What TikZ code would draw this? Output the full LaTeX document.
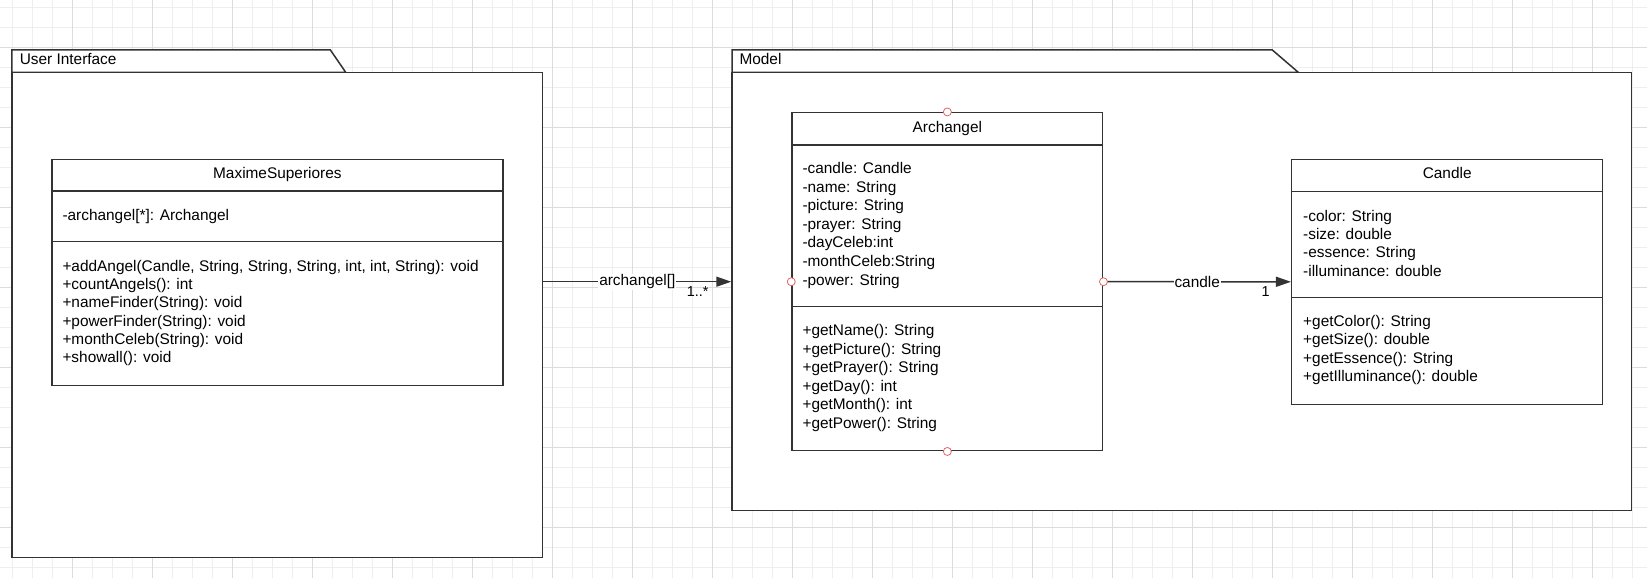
\documentclass[tikz,border=0pt]{standalone}
\usepackage{fontspec}
\setmainfont{Liberation Sans}
\usetikzlibrary{arrows.meta}
\definecolor{umlline}{HTML}{333333}
\definecolor{gridminor}{HTML}{EEEEEE}
\definecolor{gridmajor}{HTML}{DCDCDC}
\definecolor{portred}{HTML}{E06666}
\newcommand{\umlfont}{\fontsize{15.4}{18.4}\selectfont}

\begin{document}
\begin{tikzpicture}[x=1pt,y=-1pt,
    boxline/.style={draw=umlline,line width=1.5pt,fill=white,inner sep=0pt,rectangle},
    member/.style={anchor=base west,inner sep=0pt,font=\umlfont},
    classname/.style={anchor=base,inner sep=0pt,font=\umlfont},
    portmark/.style={draw=portred,fill=white,line width=0.8pt},
    assoc/.style={draw=umlline,line width=1.5pt,-{Triangle[length=15pt,width=10pt]}},
    lbl/.style={fill=white,inner sep=1pt,font=\umlfont},
    mult/.style={inner sep=0pt,anchor=base east,font=\fontsize{14.4}{16}\selectfont}]
    \fill[white] (0,0) rectangle (1647,578);
    \useasboundingbox (0,0) rectangle (1647,578);
    \foreach \k in {0,...,81}
        \draw[gridminor,line width=1pt] ({12.7+20*\k},0) -- ({12.7+20*\k},578);
    \foreach \k in {0,...,28}
        \draw[gridminor,line width=1pt] (0,{7.3+20*\k}) -- (1647,{7.3+20*\k});
    \foreach \k in {0,...,19}
        \draw[gridmajor,line width=1pt] ({72.7+80*\k},0) -- ({72.7+80*\k},578);
    \foreach \k in {0,...,6}
        \draw[gridmajor,line width=1pt] (0,{47.3+80*\k}) -- (1647,{47.3+80*\k});

    % packages
    \filldraw[boxline] (11.8,72.3) -- (11.8,50) -- (330.4,50) -- (345.7,72.3) -- cycle;
    \node[boxline,minimum width=530.9pt,minimum height=485.4pt] (uipkg) at (277.25,315) {};
    \node[member] (uilabel) at (19.6,64.3) {User Interface};
    \filldraw[boxline] (732,72.3) -- (732,50) -- (1272.3,50) -- (1298.3,72.3) -- cycle;
    \node[boxline,minimum width=899.7pt,minimum height=438.2pt] (modelpkg) at (1181.85,291.4) {};
    \node[member] (modellabel) at (739.3,65) {Model};

    % MaximeSuperiores
    \node[boxline,minimum width=451.1pt,minimum height=226pt] (maxime) at (277.35,272.3) {};
    \draw[umlline,line width=1.5pt] ([yshift=-32.4pt]maxime.north west) -- ([yshift=-32.4pt]maxime.north east);
    \draw[umlline,line width=1.5pt] ([yshift=-83pt]maxime.north west) -- ([yshift=-83pt]maxime.north east);
    \node[classname] (maxime-name) at (277.35,178.3) {MaximeSuperiores};
    \node[member] (maxime-a1) at (62.3,220) {-archangel[*]: Archangel};
    \foreach \txt [count=\i] in {{+addAngel(Candle, String, String, String, int, int, String): void},
        {+countAngels(): int},{+nameFinder(String): void},{+powerFinder(String): void},
        {+monthCeleb(String): void},{+showall(): void}}
        \node[member] (maxime-m\i) at (62.3,{271.7+18.1*(\i-1)}) {\txt};

    % Archangel
    \node[boxline,minimum width=310.7pt,minimum height=338pt] (archangel) at (947.35,281.7) {};
    \draw[umlline,line width=1.5pt] ([yshift=-33pt]archangel.north west) -- ([yshift=-33pt]archangel.north east);
    \draw[umlline,line width=1.5pt] ([yshift=-194.6pt]archangel.north west) -- ([yshift=-194.6pt]archangel.north east);
    \node[classname] (archangel-name) at (947.35,132) {Archangel};
    \foreach \txt [count=\i] in {{-candle: Candle},{-name: String},{-picture: String},
        {-prayer: String},{-dayCeleb:int},{-monthCeleb:String},{-power: String}}
        \node[member] (archangel-a\i) at (802.3,{173.5+18.6*(\i-1)}) {\txt};
    \foreach \txt [count=\i] in {{+getName(): String},{+getPicture(): String},{+getPrayer(): String},
        {+getDay(): int},{+getMonth(): int},{+getPower(): String}}
        \node[member] (archangel-m\i) at (802.3,{335.8+18.5*(\i-1)}) {\txt};

    % Candle
    \node[boxline,minimum width=311pt,minimum height=245pt] (candle) at (1447.2,281.8) {};
    \draw[umlline,line width=1.5pt] ([yshift=-32.7pt]candle.north west) -- ([yshift=-32.7pt]candle.north east);
    \draw[umlline,line width=1.5pt] ([yshift=-138.7pt]candle.north west) -- ([yshift=-138.7pt]candle.north east);
    \node[classname] (candle-name) at (1447.2,178.3) {Candle};
    \foreach \txt [count=\i] in {{-color: String},{-size: double},{-essence: String},{-illuminance: double}}
        \node[member] (candle-a\i) at (1303,{221+18.4*(\i-1)}) {\txt};
    \foreach \txt [count=\i] in {{+getColor(): String},{+getSize(): double},{+getEssence(): String},
        {+getIlluminance(): double}}
        \node[member] (candle-m\i) at (1303,{326+18.6*(\i-1)}) {\txt};

    % associations
    \draw[assoc] (uipkg.east |- archangel.west) -- (modelpkg.west |- archangel.west)
        node[midway,lbl] (lbl-archangel) {archangel[]}
        node[pos=1,mult,xshift=-22pt,yshift=-14.5pt] (mult-archangel) {1..*};
    \draw[assoc] (archangel.east) -- (candle.west)
        node[midway,lbl] (lbl-candle) {candle}
        node[pos=1,mult,xshift=-20.5pt,yshift=-15pt] (mult-candle) {1};

    \foreach \side in {north,south,west,east}
        \draw[portmark] (archangel.\side) circle (4pt);
\end{tikzpicture}
\end{document}
